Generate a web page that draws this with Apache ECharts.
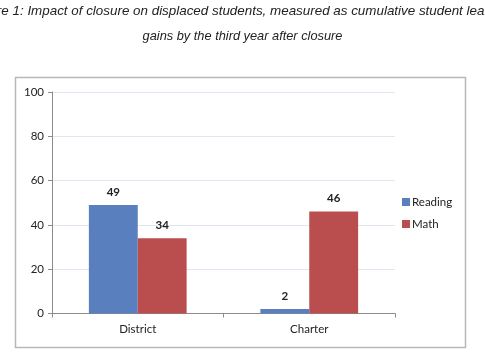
<!DOCTYPE html>
<html>
<head>
<meta charset="utf-8">
<script src="https://cdn.jsdelivr.net/npm/echarts@6/dist/echarts.min.js"></script>
<style>html,body{margin:0;padding:0;background:#fff;}#c{width:485px;height:360px;}</style>
</head>
<body>
<div id="c"></div>
<script>
const titleLines = ["Figure 1: Impact of closure on displaced students, measured as cumulative student learning", "gains by the third year after closure"];
const categories = ["District", "Charter"];
const seriesNames = ["Reading", "Math"];
const readingValues = [49, 2];
const mathValues = [34, 46];
const yTicks = [0, 20, 40, 60, 80, 100];

const chart = echarts.init(document.getElementById('c'), null, {renderer: 'canvas'});
const labelStyle = {show: true, position: 'top', fontFamily: 'Lato', fontWeight: 'bold', fontSize: 11.5, color: '#222', distance: 7};
chart.setOption({
  animation: false,
  backgroundColor: '#fff',
  graphic: [
    {type: 'text', left: 'center', top: 5, style: {text: titleLines[0], font: 'italic 13.4px "Liberation Sans"', fill: '#222'}},
    {type: 'text', left: 'center', top: 30, style: {text: titleLines[1], font: 'italic 12.8px "Liberation Sans"', fill: '#222'}},
    {type: 'rect', shape: {x: 15.5, y: 77.5, width: 450, height: 270}, style: {fill: 'none', stroke: '#b8b8b8', lineWidth: 1.5}, z: -1}
  ],
  legend: {
    orient: 'vertical', left: 402, top: 196, itemWidth: 8, itemHeight: 8, itemGap: 10, padding: 0,
    icon: 'rect',
    textStyle: {fontFamily: 'Lato', fontSize: 11.5, color: '#222', padding: [0, 0, 0, -3]},
    data: seriesNames
  },
  grid: {left: 52, right: 90, top: 92, bottom: 46.5, containLabel: false},
  xAxis: {
    type: 'category', data: categories,
    axisLine: {lineStyle: {color: '#8c8c8c', width: 1}},
    axisTick: {show: true, length: 4, alignWithLabel: false, lineStyle: {color: '#8c8c8c'}},
    axisLabel: {fontFamily: 'Lato', fontSize: 11.5, color: '#222', margin: 10}
  },
  yAxis: {
    type: 'value', min: yTicks[0], max: yTicks[yTicks.length - 1], interval: 20,
    axisLine: {show: true, lineStyle: {color: '#8c8c8c', width: 1}},
    axisTick: {show: true, length: 4, lineStyle: {color: '#8c8c8c'}},
    axisLabel: {fontFamily: 'Lato', fontSize: 11.5, color: '#222', margin: 8},
    splitLine: {show: true, lineStyle: {color: '#dde6f1', width: 1}}
  },
  series: [
    {name: seriesNames[0], type: 'bar', data: readingValues, barGap: '0%', barCategoryGap: '43%',
     itemStyle: {color: '#5a7fbe'}, label: labelStyle},
    {name: seriesNames[1], type: 'bar', data: mathValues, barGap: '0%', barCategoryGap: '43%',
     itemStyle: {color: '#ba4e4f'}, label: labelStyle}
  ]
});
</script>
</body>
</html>
